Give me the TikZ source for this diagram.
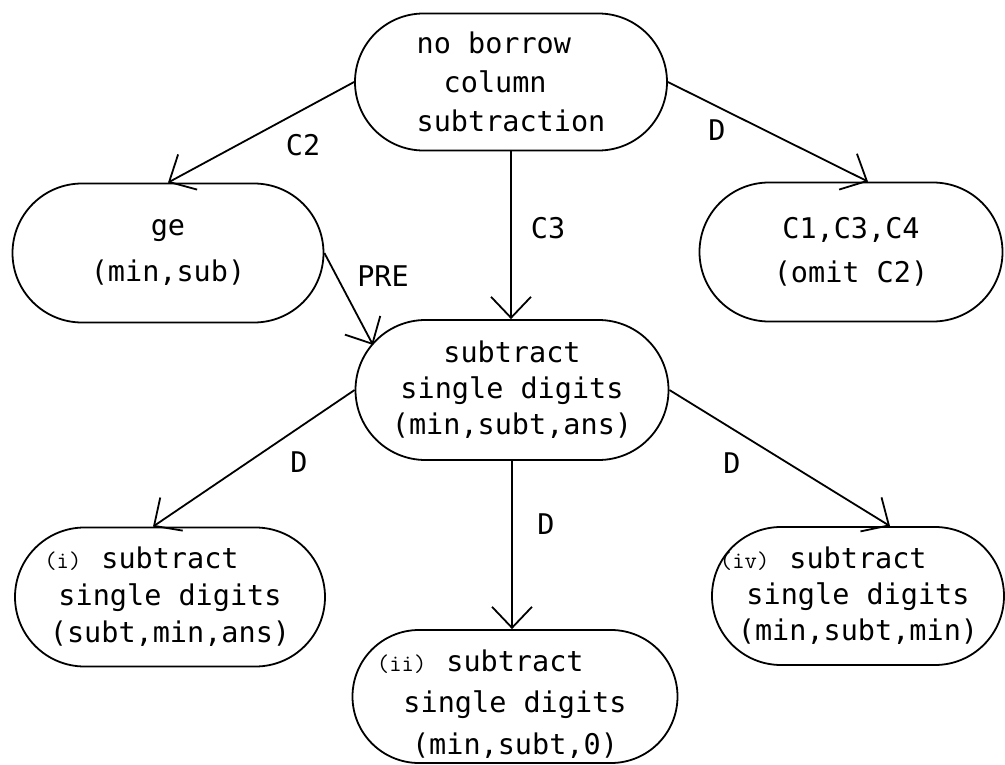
\documentclass[tikz,border=0pt]{standalone}
\usepackage{fontspec}
\newfontfamily\plotfont{DejaVu Sans Mono}
\usetikzlibrary{arrows.meta,shapes.misc,calc}
% small case number hung to the left of a centred line
\newcommand\casetag[1]{\llap{{\ttfamily\fontsize{24}{24}\selectfont #1}\hspace{20pt}}}
\begin{document}
\begin{tikzpicture}[x=1pt,y=-1pt,
  box/.style={draw, line width=1.8pt, rounded rectangle, inner sep=0pt, align=center},
  txt/.style={font={\plotfont\fontsize{28.5}{#1}\selectfont}},
  lab/.style={inner sep=0pt, font={\plotfont\fontsize{28.5}{30}\selectfont}},
  conn/.style={line width=1.8pt, -{Straight Barb[length=21pt,width=40pt]}}]
\useasboundingbox (0,0) rectangle (1005,765);

% goal and sub-goal nodes
\node[box, txt=39, align=left, minimum width=312, minimum height=137] (top) at (511,82)
  {no borrow\\\hspace*{0.95em}column\\subtraction};
\node[box, txt=46, minimum width=311, minimum height=139] (ge) at (168,253)
  {ge\\(min,sub)};
\node[box, txt=44, minimum width=303, minimum height=139] (c1) at (851,252)
  {C1,C3,C4\\(omit C2)};
\node[box, txt=36, minimum width=313, minimum height=140] (mid) at (512,390)
  {subtract\\single digits\\(min,subt,ans)};
\node[box, txt=37, minimum width=310, minimum height=139] (n1) at (170,597)
  {\casetag{(i)}subtract\\single digits\\(subt,min,ans)};
\node[box, txt=41.5, minimum width=325, minimum height=133] (n2) at (515,696.5)
  {\rule{0pt}{36pt}\casetag{(ii)}subtract\\single digits\\(min,subt,0)};
\node[box, txt=36, minimum width=292, minimum height=138] (n4) at (858,596)
  {\casetag{(iv)}subtract\\single digits\\(min,subt,min)};

% connectors
\draw[conn] (top.west) -- (ge.north);
\draw[conn] (top.east) -- ([xshift=17pt]c1.north);
\draw[conn] (top.south) -- (top.south |- mid.north);
\draw[conn] (ge.east) -- ($(mid.center)+(-139,-45)$);
\draw[conn] (mid.west) -- ([xshift=-17pt]n1.north);
\draw[conn] (mid.south) -- (mid.south |- n2.north);
\draw[conn] (mid.east) -- ([xshift=32pt]n4.north);

% connector labels
\node[lab] (lc2) at (303,145) {C2};
\node[lab] (ld1) at (717,130) {D};
\node[lab] (lc3) at (548,228) {C3};
\node[lab] (lpre) at (383,276) {PRE};
\node[lab] (ld2) at (299,462) {D};
\node[lab] (ld3) at (546,524) {D};
\node[lab] (ld4) at (732,463) {D};
\end{tikzpicture}
\end{document}
